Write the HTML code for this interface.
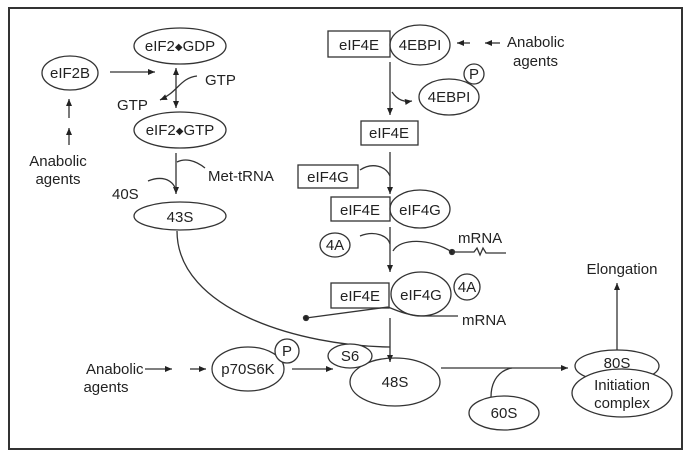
<!DOCTYPE html>
<html><head><style>body{margin:0;background:#fff}svg{display:block}text{font-family:"Liberation Sans",sans-serif;font-size:15px;fill:#222}</style></head><body>
<svg width="691" height="458" viewBox="0 0 691 458" xmlns="http://www.w3.org/2000/svg">
<defs><marker id="a" markerWidth="8" markerHeight="8" refX="7" refY="4" orient="auto" markerUnits="userSpaceOnUse"><path d="M0,1 L7,4 L0,7 Z" fill="#222"/></marker></defs>
<g fill="none" stroke="#333" stroke-width="1.3">
<rect x="9" y="8" width="673" height="441" stroke-width="2"/>
<ellipse cx="180" cy="46" rx="46" ry="18"/>
<ellipse cx="70" cy="73" rx="28" ry="17"/>
<line x1="110" y1="72" x2="155" y2="72" marker-end="url(#a)"/>
<line x1="176" y1="85" x2="176" y2="68" marker-end="url(#a)"/>
<line x1="176" y1="85" x2="176" y2="108" marker-end="url(#a)"/>
<path d="M197,76 C180,78 178,92 160,100" marker-end="url(#a)"/>
<ellipse cx="180" cy="130" rx="46" ry="18"/>
<line x1="176" y1="153" x2="176" y2="194" marker-end="url(#a)"/>
<path d="M205,168 C195,160 185,158 177,162"/>
<path d="M148,181 C160,176 172,178 176,190"/>
<ellipse cx="180" cy="216" rx="46" ry="14"/>
<path d="M177,231 C177,310 300,346 390,347"/>
<line x1="69" y1="118" x2="69" y2="99" marker-end="url(#a)"/>
<line x1="69" y1="145" x2="69" y2="128" marker-end="url(#a)"/>
<rect x="328" y="31" width="62" height="26"/>
<ellipse cx="420" cy="45" rx="30" ry="20"/>
<line x1="470" y1="43" x2="457" y2="43" marker-end="url(#a)"/>
<line x1="500" y1="43" x2="485" y2="43" marker-end="url(#a)"/>
<line x1="390" y1="62" x2="390" y2="115" marker-end="url(#a)"/>
<path d="M392,92 C398,101 405,102 412,101" marker-end="url(#a)"/>
<circle cx="474" cy="74" r="10"/>
<ellipse cx="449" cy="97" rx="30" ry="18"/>
<rect x="361" y="121" width="57" height="24"/>
<line x1="390" y1="152" x2="390" y2="194" marker-end="url(#a)"/>
<rect x="298" y="165" width="60" height="23"/>
<path d="M360,170 C372,162 386,166 390,176"/>
<rect x="331" y="197" width="59" height="24"/>
<ellipse cx="420" cy="209" rx="30" ry="19"/>
<ellipse cx="335" cy="245" rx="15" ry="12"/>
<line x1="390" y1="227" x2="390" y2="272" marker-end="url(#a)"/>
<path d="M360,236 C375,230 388,236 390,244"/>
<path d="M393,251 C400,238 430,238 452,252"/>
<circle cx="452" cy="252" r="2.5" fill="#222"/>
<path d="M452,252 L474,252 L477,248 L480,255 L483,248 L486,253 L506,253"/>
<rect x="331" y="283" width="58" height="25"/>
<ellipse cx="421" cy="294" rx="30" ry="22"/>
<circle cx="467" cy="287" r="13"/>
<line x1="306" y1="318" x2="388" y2="307"/>
<circle cx="306" cy="318" r="2.5" fill="#222"/>
<path d="M388,307 C400,312 410,316 425,316 L458,316"/>
<line x1="390" y1="318" x2="390" y2="362" marker-end="url(#a)"/>
<ellipse cx="395" cy="382" rx="45" ry="24"/>
<ellipse cx="350" cy="356" rx="22" ry="12" fill="#fff"/>
<ellipse cx="248" cy="369" rx="36" ry="22"/>
<circle cx="287" cy="351" r="12" fill="#fff"/>
<line x1="145" y1="369" x2="172" y2="369" marker-end="url(#a)"/>
<line x1="190" y1="369" x2="206" y2="369" marker-end="url(#a)"/>
<line x1="292" y1="369" x2="333" y2="369" marker-end="url(#a)"/>
<line x1="441" y1="368" x2="568" y2="368" marker-end="url(#a)"/>
<path d="M491,397 C491,380 500,370 512,368"/>
<ellipse cx="504" cy="413" rx="35" ry="17"/>
<ellipse cx="617" cy="366" rx="42" ry="16"/>
<ellipse cx="622" cy="393" rx="50" ry="24" fill="#fff"/>
<line x1="617" y1="350" x2="617" y2="283" marker-end="url(#a)"/>
</g>
<g text-anchor="middle">
<text x="180" y="51">eIF2<tspan font-size="10" dy="-1">◆</tspan><tspan dy="1">GDP</tspan></text>
<text x="70" y="78">eIF2B</text>
<text x="180" y="135">eIF2<tspan font-size="10" dy="-1">◆</tspan><tspan dy="1">GTP</tspan></text>
<text x="180" y="222">43S</text>
<text x="58" y="166">Anabolic</text>
<text x="58" y="184">agents</text>
<text x="359" y="50">eIF4E</text>
<text x="420" y="50">4EBPI</text>
<text x="474" y="79">P</text>
<text x="449" y="102">4EBPI</text>
<text x="389" y="138">eIF4E</text>
<text x="328" y="182">eIF4G</text>
<text x="360" y="215">eIF4E</text>
<text x="420" y="215">eIF4G</text>
<text x="335" y="250">4A</text>
<text x="360" y="301">eIF4E</text>
<text x="421" y="300">eIF4G</text>
<text x="467" y="292">4A</text>
<text x="350" y="361">S6</text>
<text x="395" y="387">48S</text>
<text x="248" y="374">p70S6K</text>
<text x="287" y="356">P</text>
<text x="504" y="418">60S</text>
<text x="617" y="368">80S</text>
<text x="622" y="390">Initiation</text>
<text x="622" y="408">complex</text>
<text x="622" y="274">Elongation</text>
<text x="106" y="392">agents</text>
</g>
<text x="205" y="85">GTP</text>
<text x="117" y="110">GTP</text>
<text x="208" y="181">Met-tRNA</text>
<text x="112" y="199">40S</text>
<text x="507" y="47">Anabolic</text>
<text x="513" y="66">agents</text>
<text x="458" y="243">mRNA</text>
<text x="462" y="325">mRNA</text>
<text x="86" y="374">Anabolic</text>
</svg>
</body></html>
